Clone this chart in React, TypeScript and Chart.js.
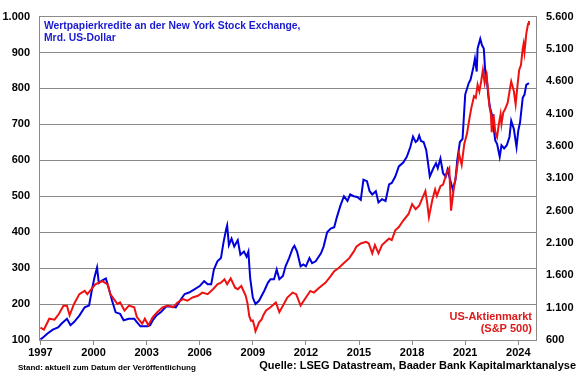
import React, { useEffect, useRef } from "react";
import { Chart, registerables } from "chart.js";

Chart.register(...registerables);

// NYSE margin debt (bn USD), left axis
const blueYears = [
  1997.0, 1997.1, 1997.4, 1997.7, 1998.0, 1998.2, 1998.5, 1998.7, 1998.9, 1999.2, 1999.5, 1999.75, 1999.9,
  2000.05, 2000.2, 2000.3, 2000.5, 2000.7, 2000.9, 2001.05, 2001.25, 2001.5, 2001.7, 2002.0, 2002.3, 2002.45,
  2002.65, 2002.9, 2003.05, 2003.2, 2003.35, 2003.55, 2003.8, 2004.1, 2004.4, 2004.65, 2004.95, 2005.15, 2005.4,
  2005.7, 2006.0, 2006.25, 2006.45, 2006.65, 2006.8, 2007.0, 2007.2, 2007.35, 2007.5, 2007.55, 2007.65, 2007.8,
  2007.95, 2008.15, 2008.3, 2008.5, 2008.65, 2008.75, 2008.85, 2009.0, 2009.15, 2009.35, 2009.65, 2009.85,
  2010.0, 2010.2, 2010.35, 2010.5, 2010.7, 2010.85, 2011.05, 2011.25, 2011.35, 2011.5, 2011.7, 2011.85, 2012.0,
  2012.2, 2012.35, 2012.55, 2012.85, 2013.0, 2013.2, 2013.4, 2013.6, 2013.75, 2013.95, 2014.15, 2014.35, 2014.5,
  2014.7, 2014.9, 2015.1, 2015.25, 2015.45, 2015.6, 2015.75, 2015.95, 2016.1, 2016.3, 2016.5, 2016.7, 2016.85,
  2017.05, 2017.25, 2017.5, 2017.7, 2017.9, 2018.05, 2018.2, 2018.3, 2018.4, 2018.5, 2018.65, 2018.8, 2018.9,
  2019.0, 2019.2, 2019.35, 2019.45, 2019.6, 2019.75, 2019.9, 2020.0, 2020.15, 2020.3, 2020.45, 2020.55, 2020.7,
  2020.85, 2021.0, 2021.2, 2021.3, 2021.45, 2021.55, 2021.65, 2021.7, 2021.85, 2021.95, 2022.05, 2022.15, 2022.2,
  2022.3, 2022.4, 2022.5, 2022.6, 2022.7, 2022.8, 2022.95, 2023.05, 2023.2, 2023.35, 2023.5, 2023.6, 2023.75,
  2023.9, 2024.0, 2024.1, 2024.25, 2024.35, 2024.45, 2024.6,
];
const blueValues = [
  102, 105, 118, 129, 135, 146, 159, 141, 150, 168, 191, 196, 237,
  273, 302, 259, 266, 271, 237, 209, 177, 173, 155, 159, 159, 150,
  138, 138, 138, 141, 155, 168, 177, 193, 193, 191, 214, 228, 232,
  241, 250, 264, 255, 255, 296, 319, 328, 373, 410, 419, 364, 382,
  360, 378, 337, 346, 332, 346, 273, 218, 200, 209, 237, 259,
  269, 269, 296, 269, 278, 305, 328, 355, 362, 346, 305, 310, 305,
  328, 314, 319, 341, 360, 400, 410, 414, 442, 474, 500, 487, 505,
  500, 498, 490, 546, 542, 514, 505, 514, 483, 492, 487, 533, 537,
  555, 583, 594, 610, 637, 666, 651, 655, 669, 654, 651, 628, 592,
  555, 578, 592, 578, 605, 564, 555, 574, 546, 519, 546, 600, 651,
  660, 783, 815, 824, 856, 883, 847, 911, 938, 920, 911, 833, 838,
  783, 747, 729, 692, 655, 646, 610, 642, 633, 642, 665, 710, 687,
  637, 683, 706, 774, 783, 810, 815,
];

// S&P 500 index, right axis
const redYears = [
  1997.0, 1997.2, 1997.5, 1997.8, 1998.05, 1998.3, 1998.5, 1998.65, 1998.9, 1999.2, 1999.5, 1999.65, 1999.95,
  2000.1, 2000.3, 2000.5, 2000.8, 2000.95, 2001.15, 2001.35, 2001.5, 2001.75, 2002.0, 2002.3, 2002.45, 2002.75,
  2002.9, 2003.1, 2003.35, 2003.6, 2003.9, 2004.2, 2004.5, 2004.75, 2005.05, 2005.3, 2005.6, 2005.9, 2006.15,
  2006.45, 2006.75, 2007.0, 2007.2, 2007.4, 2007.55, 2007.75, 2008.0, 2008.15, 2008.35, 2008.6, 2008.7, 2008.8,
  2008.9, 2009.0, 2009.08, 2009.15, 2009.25, 2009.35, 2009.5, 2009.6, 2009.75, 2010.0, 2010.3, 2010.5, 2010.7,
  2010.95, 2011.25, 2011.45, 2011.7, 2012.0, 2012.25, 2012.45, 2012.75, 2013.1, 2013.4, 2013.6, 2013.85, 2014.15,
  2014.45, 2014.7, 2014.85, 2015.1, 2015.4, 2015.55, 2015.75, 2015.9, 2016.1, 2016.3, 2016.5, 2016.7, 2016.85,
  2017.05, 2017.25, 2017.5, 2017.8, 2018.0, 2018.2, 2018.4, 2018.55, 2018.75, 2018.85, 2018.95, 2019.15, 2019.3,
  2019.4, 2019.6, 2019.75, 2019.95, 2020.1, 2020.2, 2020.35, 2020.5, 2020.65, 2020.8, 2020.95, 2021.1, 2021.25,
  2021.35, 2021.5, 2021.6, 2021.7, 2021.8, 2021.9, 2022.0, 2022.1, 2022.2, 2022.3, 2022.35, 2022.45, 2022.5,
  2022.6, 2022.7, 2022.8, 2022.9, 2023.0, 2023.05, 2023.15, 2023.25, 2023.4, 2023.55, 2023.6, 2023.75, 2023.85,
  2023.95, 2024.05, 2024.15, 2024.25, 2024.3, 2024.35, 2024.45, 2024.55, 2024.6,
];
const redValues = [
  793, 762, 929, 914, 1005, 1131, 1131, 980, 1157, 1309, 1359, 1309, 1409,
  1460, 1485, 1511, 1460, 1309, 1233, 1157, 1182, 1055, 1131, 1105, 954, 853,
  929, 828, 954, 1030, 1106, 1131, 1106, 1181, 1233, 1207, 1257, 1283, 1333,
  1309, 1385, 1461, 1485, 1537, 1461, 1552, 1409, 1385, 1435, 1283, 1166, 969,
  896, 903, 826, 735, 798, 873, 919, 987, 1057, 1106, 1181, 1030, 1131,
  1257, 1333, 1309, 1131, 1257, 1359, 1333, 1409, 1485, 1587, 1663, 1713, 1789,
  1865, 1966, 2042, 2092, 2118, 2092, 1940, 2068, 1940, 2068, 2118, 2168, 2144,
  2296, 2346, 2447, 2548, 2699, 2623, 2675, 2775, 2903, 2725, 2498, 2775, 2927,
  2827, 2979, 3003, 3181, 3257, 2599, 2927, 3181, 3484, 3307, 3636, 3788, 4041,
  4193, 4369, 4345, 4547, 4445, 4597, 4775, 4572, 4699, 4445, 4243, 4091, 3813,
  4091, 3813, 3737, 3939, 4091, 3939, 4117, 4167, 4269, 4521, 4597, 4445, 4243,
  4521, 4775, 4850, 5104, 5180, 5052, 5332, 5484, 5533,
];

const yearTicks = [1997, 2000, 2003, 2006, 2009, 2012, 2015, 2018, 2021, 2024];

const titleLines = ["Wertpapierkredite an der New York Stock Exchange,", "Mrd. US-Dollar"];
const seriesLabelLines = ["US-Aktienmarkt", "(S&P 500)"];
const footLeft = "Stand: aktuell zum Datum der Veröffentlichung";
const footRight = "Quelle: LSEG Datastream, Baader Bank Kapitalmarktanalyse";

const BLUE = "#0000dd";
const RED = "#ee1111";
const GRID = "#8a8a8a";
const FONT = "'Liberation Sans', Arial, sans-serif";

const fmtDE = (v: number) => Math.round(v).toString().replace(/\B(?=(\d{3})+(?!\d))/g, ".");

const textPlugin = {
  id: "texts",
  afterDraw(chart: any) {
    const ctx = chart.ctx;
    const a = chart.chartArea;
    ctx.save();
    ctx.textBaseline = "middle";
    ctx.font = `bold 11px ${FONT}`;
    ctx.fillStyle = "#1a1ad0";
    ctx.textAlign = "left";
    ctx.save();
    ctx.translate(a.left + 5, 0);
    ctx.scale(0.94, 1);
    ctx.fillText(titleLines[0], 0, a.top + 9);
    ctx.fillText(titleLines[1], 0, a.top + 21);
    ctx.restore();
    ctx.fillStyle = "#dd1a1a";
    ctx.textAlign = "right";
    ctx.fillText(seriesLabelLines[0], a.right - 4, a.bottom - 23);
    ctx.fillText(seriesLabelLines[1], a.right - 4, a.bottom - 11);
    ctx.fillStyle = "#000";
    ctx.font = `bold 8px ${FONT}`;
    ctx.textAlign = "left";
    ctx.fillText(footLeft, 18, 368);
    ctx.font = `bold 11px ${FONT}`;
    ctx.textAlign = "right";
    ctx.fillText(footRight, 576, 366);
    ctx.restore();
  },
};

export default function App() {
  const ref = useRef<HTMLCanvasElement | null>(null);
  useEffect(() => {
    if (!ref.current) return;
    const redPts = redYears.map((x, i) => ({ x, y: redValues[i] }));
    const bluePts = blueYears.map((x, i) => ({ x, y: blueValues[i] }));
    const tickFont = { family: FONT, size: 11, weight: "bold" as const };
    const chart = new Chart(ref.current, {
      type: "line",
      data: {
        datasets: [
          { label: "S&P 500", data: redPts, yAxisID: "yR", borderColor: RED, borderWidth: 2, pointRadius: 0, tension: 0, fill: false },
          { label: "Wertpapierkredite", data: bluePts, yAxisID: "yL", borderColor: BLUE, borderWidth: 2, pointRadius: 0, tension: 0, fill: false },
        ],
      },
      options: {
        responsive: false,
        animation: false,
        layout: { padding: { top: 10, left: 0, right: 0, bottom: 0 } },
        plugins: { legend: { display: false }, tooltip: { enabled: false }, title: { display: false } },
        scales: {
          x: {
            type: "linear",
            min: 1996.92,
            max: 2025,
            afterBuildTicks: (s: any) => {
              s.ticks = yearTicks.map((v) => ({ value: v }));
            },
            afterFit: (s: any) => {
              s.height = 35;
            },
            ticks: { callback: (v: any) => String(v), font: tickFont, color: "#000", padding: 1, maxRotation: 0, autoSkip: false },
            grid: { drawOnChartArea: false, drawTicks: true, tickLength: 5, color: GRID },
            border: { color: GRID },
          },
          yL: {
            position: "left",
            min: 100,
            max: 1000,
            afterFit: (s: any) => {
              s.width = 39;
            },
            ticks: { stepSize: 100, callback: (v: any) => fmtDE(Number(v)), font: tickFont, color: "#000", padding: 9 },
            grid: { color: GRID, drawTicks: false },
            border: { color: GRID },
          },
          yR: {
            position: "right",
            min: 600,
            max: 5600,
            afterFit: (s: any) => {
              s.width = 44;
            },
            ticks: { stepSize: 500, callback: (v: any) => fmtDE(Number(v)), font: tickFont, color: "#000", padding: 10 },
            grid: { drawOnChartArea: false, drawTicks: false, color: GRID },
            border: { color: GRID },
          },
        },
      },
      plugins: [textPlugin],
    });
    return () => chart.destroy();
  }, []);
  return (
    <div style={{ position: "fixed", left: 0, top: 0, width: 580, height: 375, background: "#fff" }}>
      <canvas ref={ref} width={580} height={375} style={{ width: 580, height: 375 }} />
    </div>
  );
}
